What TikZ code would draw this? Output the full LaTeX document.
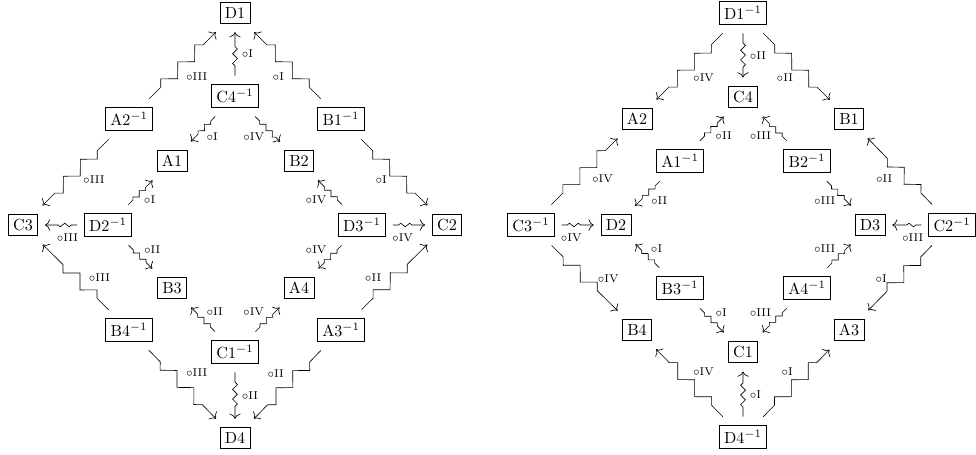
\documentclass[tikz,border=0pt]{standalone}
\usetikzlibrary{decorations.pathmorphing,arrows.meta}
\begin{document}
\begin{tikzpicture}[x=0.62pt,y=-0.62pt,
  box/.style={draw, line width=0.4pt, inner sep=3pt, outer xsep=4.5pt, outer ysep=5.5pt},
  lab/.style={auto, font=\scriptsize, inner sep=2pt},
  hlab/.style={pos=0.3, yshift=-3.5pt},
  vlab/.style={xshift=2pt},
  toplab/.style={yshift=-2.5pt},
  botlab/.style={yshift=2.5pt},
  uplab/.style={xshift=#1*2.5pt},
  lowlab/.style={xshift=#1*6pt, yshift=-5pt},
  tip/.style={-{To[length=3.2pt,width=7pt]}},
  sqlong/.style={tip, decorate, decoration={zigzag, segment length=14.9pt, amplitude=3.7pt, pre length=10pt, post length=10.5pt}},
  sqshort/.style={tip, decorate, decoration={zigzag, segment length=5.6pt, amplitude=1.4pt, pre length=4pt, post length=4pt}},
  sqvert/.style={tip, decorate, decoration={zigzag, segment length=6pt, amplitude=1.5pt, pre length=6pt, post length=6pt}},
  sqhor/.style={tip, decorate, decoration={zigzag, segment length=5.5pt, amplitude=1.1pt, pre length=3.5pt, post length=8pt}},
  % staircases always start with the vertical step
  flip/.style={decoration={mirror}},
]
\useasboundingbox (0,0) rectangle (976,455);

% ---------- left diamond ----------
\node[box] (D1)  at (235,13)  {D1};
\node[box] (C4i) at (235,96)  {C4$^{-1}$};
\node[box] (A2i) at (129,119) {A2$^{-1}$};
\node[box] (B1i) at (341,119) {B1$^{-1}$};
\node[box] (A1)  at (172,161) {A1};
\node[box] (B2)  at (299,161) {B2};
\node[box] (C3)  at (23,225)  {C3};
\node[box] (D2i) at (108,225) {D2$^{-1}$};
\node[box] (D3i) at (362,225) {D3$^{-1}$};
\node[box] (C2)  at (447,225) {C2};
\node[box] (B3)  at (172,288) {B3};
\node[box] (A4)  at (299,288) {A4};
\node[box] (B4i) at (129,330) {B4$^{-1}$};
\node[box] (A3i) at (341,330) {A3$^{-1}$};
\node[box] (C1i) at (235,352) {C1$^{-1}$};
\node[box] (D4)  at (235,438) {D4};

\draw[sqlong]        (A2i) -- node[lab, swap, toplab] {$\circ$III} (D1);
\draw[sqvert]        (C4i) -- node[lab, swap, vlab] {$\circ$I} (D1);
\draw[sqlong, flip]  (B1i) -- node[lab, toplab] {$\circ$I} (D1);
\draw[sqshort]       (C4i) -- node[lab] {$\circ$I} (A1);
\draw[sqshort, flip] (C4i) -- node[lab, swap] {$\circ$IV} (B2);
\draw[sqlong]        (A2i) -- node[lab, uplab=1] {$\circ$III} (C3);
\draw[sqlong, flip]  (B1i) -- node[lab, swap, uplab=-1] {$\circ$I} (C2);
\draw[sqshort]       (D2i) -- node[lab, swap] {$\circ$I} (A1);
\draw[sqhor]         (D2i) -- node[lab, hlab] {$\circ$III} (C3);
\draw[sqshort, flip] (D2i) -- node[lab] {$\circ$II} (B3);
\draw[sqlong, flip]  (B4i) -- node[lab, swap, lowlab=1] {$\circ$III} (C3);
\draw[sqshort, flip] (D3i) -- node[lab] {$\circ$IV} (B2);
\draw[sqhor]         (D3i) -- node[lab, swap, hlab] {$\circ$IV} (C2);
\draw[sqshort]       (D3i) -- node[lab, swap] {$\circ$IV} (A4);
\draw[sqlong]        (A3i) -- node[lab, lowlab=-1] {$\circ$II} (C2);
\draw[sqshort, flip] (C1i) -- node[lab, swap] {$\circ$II} (B3);
\draw[sqshort]       (C1i) -- node[lab] {$\circ$IV} (A4);
\draw[sqlong, flip]  (B4i) -- node[lab, botlab] {$\circ$III} (D4);
\draw[sqvert]        (C1i) -- node[lab, vlab] {$\circ$II} (D4);
\draw[sqlong]        (A3i) -- node[lab, swap, botlab] {$\circ$II} (D4);

% ---------- right diamond ----------
\node[box] (D1i) at (743,13)  {D1$^{-1}$};
\node[box] (C4)  at (743,97)  {C4};
\node[box] (A2)  at (637,119) {A2};
\node[box] (B1)  at (849,119) {B1};
\node[box] (A1i) at (680,161) {A1$^{-1}$};
\node[box] (B2i) at (807,161) {B2$^{-1}$};
\node[box] (C3i) at (531,225) {C3$^{-1}$};
\node[box] (D2)  at (616,225) {D2};
\node[box] (D3)  at (870,225) {D3};
\node[box] (C2i) at (952,225) {C2$^{-1}$};
\node[box] (B3i) at (680,288) {B3$^{-1}$};
\node[box] (A4i) at (807,288) {A4$^{-1}$};
\node[box] (B4)  at (637,330) {B4};
\node[box] (A3)  at (849,330) {A3};
\node[box] (C1)  at (743,352) {C1};
\node[box] (D4i) at (743,437) {D4$^{-1}$};

\draw[sqlong]        (D1i) -- node[lab, toplab] {$\circ$IV} (A2);
\draw[sqvert]        (D1i) -- node[lab, vlab] {$\circ$II} (C4);
\draw[sqlong, flip]  (D1i) -- node[lab, swap, toplab] {$\circ$II} (B1);
\draw[sqshort]       (A1i) -- node[lab, swap] {$\circ$II} (C4);
\draw[sqshort, flip] (B2i) -- node[lab] {$\circ$III} (C4);
\draw[sqlong]        (C3i) -- node[lab, swap, uplab=1] {$\circ$IV} (A2);
\draw[sqhor]         (C3i) -- node[lab, swap, hlab] {$\circ$IV} (D2);
\draw[sqshort]       (A1i) -- node[lab] {$\circ$II} (D2);
\draw[sqshort, flip] (B3i) -- node[lab, swap] {$\circ$I} (D2);
\draw[sqlong, flip]  (C3i) -- node[lab, lowlab=1] {$\circ$IV} (B4);
\draw[sqshort, flip] (B2i) -- node[lab, swap] {$\circ$III} (D3);
\draw[sqhor]         (C2i) -- node[lab, hlab] {$\circ$III} (D3);
\draw[sqshort]       (A4i) -- node[lab] {$\circ$III} (D3);
\draw[sqlong, flip]  (C2i) -- node[lab, uplab=-1] {$\circ$II} (B1);
\draw[sqlong]        (C2i) -- node[lab, swap, lowlab=-1] {$\circ$I} (A3);
\draw[sqshort, flip] (B3i) -- node[lab] {$\circ$I} (C1);
\draw[sqshort]       (A4i) -- node[lab, swap] {$\circ$III} (C1);
\draw[sqlong, flip]  (D4i) -- node[lab, swap, botlab] {$\circ$IV} (B4);
\draw[sqvert]        (D4i) -- node[lab, swap, vlab] {$\circ$I} (C1);
\draw[sqlong]        (D4i) -- node[lab, botlab] {$\circ$I} (A3);
\end{tikzpicture}
\end{document}
